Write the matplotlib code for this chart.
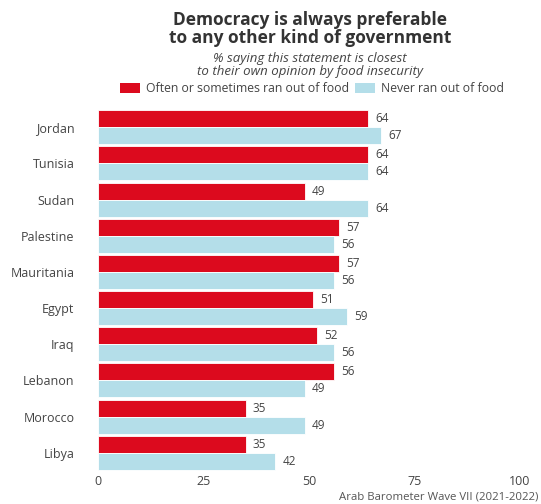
import matplotlib
matplotlib.use("Agg")
import matplotlib.pyplot as plt
import numpy as np
from matplotlib.patches import Patch

countries = ["Jordan", "Tunisia", "Sudan", "Palestine", "Mauritania", "Egypt", "Iraq", "Lebanon", "Morocco", "Libya"]
often = [64, 64, 49, 57, 57, 51, 52, 56, 35, 35]
never = [67, 64, 64, 56, 56, 59, 56, 49, 49, 42]
xticks = [0, 25, 50, 75, 100]

RED = "#DC0A1E"
BLUE = "#B4DEE9"
TXT = "#444444"

plt.rcParams['font.family'] = ['Open Sans', 'DejaVu Sans']

fig = plt.figure(figsize=(5.41, 5.04), dpi=100)
ax = fig.add_axes([98/541, 1 - 472/504, (520-98)/541, (472-108)/504])

n = len(countries)
y = np.arange(n)
h = 0.47
ax.barh(y - h/2, often, height=h, color=RED, edgecolor="white", linewidth=0.6)
ax.barh(y + h/2, never, height=h, color=BLUE, edgecolor="white", linewidth=0.6)
for i in range(n):
    ax.text(often[i] + 1.7, y[i] - h/2, str(often[i]), va="center", ha="left", fontsize=8.5, color=TXT)
    ax.text(never[i] + 1.7, y[i] + h/2, str(never[i]), va="center", ha="left", fontsize=8.5, color=TXT)

ax.set_ylim(n - 0.5 + 0.03, -0.5 - 0.03)
ax.set_xlim(0, 100)
ax.set_yticks(y)
ax.set_yticklabels(countries, fontsize=9, color=TXT)
ax.set_xticks(xticks)
ax.set_xticklabels([str(t) for t in xticks], fontsize=9, color=TXT)
ax.tick_params(length=0, pad=17, axis="y")
ax.tick_params(length=0, pad=2, axis="x")
for s in ax.spines.values():
    s.set_visible(False)

fig.text(310/541, 1 - 29/504, "Democracy is always preferable\nto any other kind of government",
         ha="center", va="center", fontsize=12.5, fontweight="bold", color="#333333", linespacing=1.0)
fig.text(310/541, 1 - 65/504, "% saying this statement is closest\nto their own opinion by food insecurity",
         ha="center", va="center", fontsize=9.5, style="italic", color="#444444", linespacing=1.0)

handles = [Patch(facecolor=RED, label="Often or sometimes ran out of food"),
           Patch(facecolor=BLUE, label="Never ran out of food")]
leg = fig.legend(handles=handles, loc="center", bbox_to_anchor=(312/541, 1 - 89/504), ncol=2,
                 frameon=False, fontsize=8.8, handlelength=1.6, handleheight=0.9,
                 columnspacing=0.5, handletextpad=0.5, labelcolor=TXT)

fig.text(538/541, 1 - 497/504, "Arab Barometer Wave VII (2021-2022)", ha="right", va="center",
         fontsize=8.2, color="#555555")

fig.savefig("out.png", dpi=100)
